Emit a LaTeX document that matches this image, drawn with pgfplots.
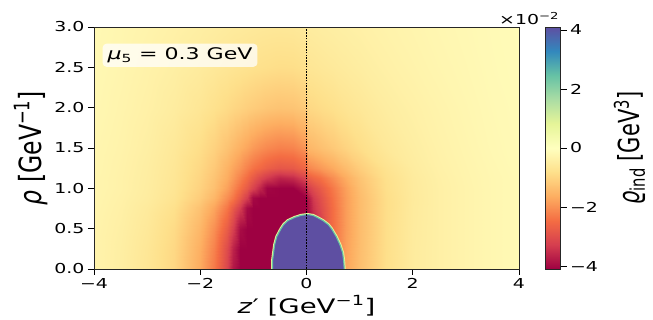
\documentclass[border=0pt]{standalone}
\usepackage{fontspec}
\setmainfont[FakeStretch=1.38]{DejaVu Sans}
\newfontfamily\rotfont{DejaVu Sans}
\usepackage{graphicx}
\usepackage{pgfplots}
\pgfplotsset{compat=1.18}
\definecolor{blu}{RGB}{94,79,162}
\definecolor{ringY}{RGB}{230,245,152}
\definecolor{ringT}{RGB}{102,194,165}
\begin{document}
\begin{tikzpicture}
\begin{axis}[
  at={(0,0)}, anchor=south west,
  width=425pt, height=242pt, scale only axis,
  xmin=-4, xmax=4, ymin=0, ymax=3,
  axis on top,
  colormap={spectral}{rgb255=(158,1,66) rgb255=(213,62,79) rgb255=(244,109,67) rgb255=(253,174,97) rgb255=(254,224,139) rgb255=(255,255,191) rgb255=(230,245,152) rgb255=(171,221,164) rgb255=(102,194,165) rgb255=(50,136,189) rgb255=(94,79,162)},
  point meta min=-4.1, point meta max=4.1,
  xtick={-4,-2,0,2,4}, xticklabels={−4,−2,0,2,4},
  ytick={0,0.5,1,1.5,2,2.5,3}, yticklabels={0.0,0.5,1.0,1.5,2.0,2.5,3.0},
  tick align=outside, xtick pos=left, ytick pos=left,
  major tick length=6pt,
  tick style={black, line width=0.8pt},
  axis line style={line width=0.9pt, black!85},
  tick label style={font=\fontsize{13.7}{15}\selectfont},
  xlabel={\textit{z}′ [GeV\textsuperscript{−1}]},
  xlabel style={font=\fontsize{20}{22}\selectfont},
  ylabel={\rotfont\scalebox{1}[1.3]{\textit{ρ} [GeV\textsuperscript{−1}]}},
  ylabel style={font=\fontsize{23.5}{25}\selectfont},
  colorbar,
  colorbar style={
    at={(parent axis.north east)}, anchor=north west, xshift=18pt, width=15pt,
    ytick={-4,-2,0,2,4}, yticklabels={−4,−2,0,2,4},
    ytick pos=right, yticklabel pos=right,
    major tick length=6pt, tick align=outside,
    tick style={black, line width=0.8pt},
    yticklabel style={font=\fontsize{13.7}{15}\selectfont},
    ylabel={\rotfont\scalebox{1}[1.38]{\textit{ϱ}\textsubscript{ind} [GeV\textsuperscript{3}]}},
    ylabel style={font=\fontsize{21}{23}\selectfont},
    ylabel shift=9pt,
    axis line style={line width=0.9pt, black!85},
    extra description/.code={\node[anchor=south east, inner sep=2pt, font=\fontsize{13.7}{15}\selectfont] at (1.05,1) {×10\textsuperscript{−2}};},
  },
]
\addplot[surf, shader=interp, mesh/rows=12, mesh/cols=28, point meta=explicit] table[x=z, y=r, meta=v] {
z r v
-4 0 -0.3
-3.5 0 -0.45
-3 0 -0.66
-2.5 0 -0.97
-2 0 -1.68
-1.75 0 -2.3
-1.5 0 -3.15
-1.375 0 -3.8
-1.25 0 -4.4
-1.125 0 -5.2
-1 0 -6
-0.875 0 -6
-0.75 0 -6
-0.5 0 -6
-0.25 0 -6
0 0 -5
0.03 0 -4.5
0.125 0 -3.8
0.25 0 -3.3
0.5 0 -2.4
0.75 0 -1.75
1 0 -1.35
1.5 0 -0.82
2 0 -0.52
2.5 0 -0.4
3 0 -0.3
3.5 0 -0.22
4 0 -0.16
-4 0.25 -0.3
-3.5 0.25 -0.44
-3 0.25 -0.64
-2.5 0.25 -0.95
-2 0.25 -1.62
-1.75 0.25 -2.2
-1.5 0.25 -3.05
-1.375 0.25 -3.65
-1.25 0.25 -4.3
-1.125 0.25 -5.0
-1 0.25 -6
-0.875 0.25 -6
-0.75 0.25 -6
-0.5 0.25 -6
-0.25 0.25 -6
0 0.25 -5
0.03 0.25 -4.5
0.125 0.25 -3.8
0.25 0.25 -3.3
0.5 0.25 -2.45
0.75 0.25 -1.8
1 0.25 -1.38
1.5 0.25 -0.83
2 0.25 -0.52
2.5 0.25 -0.4
3 0.25 -0.3
3.5 0.25 -0.22
4 0.25 -0.16
-4 0.5 -0.3
-3.5 0.5 -0.42
-3 0.5 -0.6
-2.5 0.5 -0.9
-2 0.5 -1.5
-1.75 0.5 -2.03
-1.5 0.5 -2.75
-1.375 0.5 -3.25
-1.25 0.5 -3.95
-1.125 0.5 -4.5
-1 0.5 -5.2
-0.875 0.5 -6
-0.75 0.5 -6
-0.5 0.5 -6
-0.25 0.5 -6
0 0.5 -5
0.03 0.5 -4.5
0.125 0.5 -3.9
0.25 0.5 -3.4
0.5 0.5 -2.45
0.75 0.5 -1.85
1 0.5 -1.4
1.5 0.5 -0.84
2 0.5 -0.53
2.5 0.5 -0.4
3 0.5 -0.3
3.5 0.5 -0.22
4 0.5 -0.16
-4 0.75 -0.28
-3.5 0.75 -0.39
-3 0.75 -0.55
-2.5 0.75 -0.8
-2 0.75 -1.32
-1.75 0.75 -1.75
-1.5 0.75 -2.35
-1.375 0.75 -2.8
-1.25 0.75 -3.3
-1.125 0.75 -3.97
-1 0.75 -4.5
-0.875 0.75 -5.2
-0.75 0.75 -6
-0.5 0.75 -6
-0.25 0.75 -6
0 0.75 -4.3
0.03 0.75 -3.9
0.125 0.75 -3.45
0.25 0.75 -3.1
0.5 0.75 -2.45
0.75 0.75 -1.85
1 0.75 -1.4
1.5 0.75 -0.85
2 0.75 -0.54
2.5 0.75 -0.4
3 0.75 -0.3
3.5 0.75 -0.22
4 0.75 -0.16
-4 0.875 -0.27
-3.5 0.875 -0.37
-3 0.875 -0.5
-2.5 0.875 -0.72
-2 0.875 -1.15
-1.75 0.875 -1.5
-1.5 0.875 -2.05
-1.375 0.875 -2.35
-1.25 0.875 -2.8
-1.125 0.875 -3.3
-1 0.875 -4.0
-0.875 0.875 -4.5
-0.75 0.875 -5.2
-0.5 0.875 -6
-0.25 0.875 -5.5
0 0.875 -4.2
0.03 0.875 -3.8
0.125 0.875 -3.35
0.25 0.875 -3.0
0.5 0.875 -2.4
0.75 0.875 -1.85
1 0.875 -1.4
1.5 0.875 -0.85
2 0.875 -0.55
2.5 0.875 -0.4
3 0.875 -0.3
3.5 0.875 -0.22
4 0.875 -0.16
-4 1 -0.26
-3.5 1 -0.35
-3 1 -0.48
-2.5 1 -0.68
-2 1 -1.05
-1.75 1 -1.35
-1.5 1 -1.8
-1.375 1 -2.1
-1.25 1 -2.45
-1.125 1 -2.8
-1 1 -3.2
-0.875 1 -3.6
-0.75 1 -4.05
-0.5 1 -4.6
-0.25 1 -4.4
0 1 -3.7
0.03 1 -3.3
0.125 1 -3.05
0.25 1 -2.8
0.5 1 -2.3
0.75 1 -1.8
1 1 -1.35
1.5 1 -0.82
2 1 -0.54
2.5 1 -0.4
3 1 -0.3
3.5 1 -0.22
4 1 -0.16
-4 1.125 -0.26
-3.5 1.125 -0.35
-3 1.125 -0.47
-2.5 1.125 -0.66
-2 1.125 -1.0
-1.75 1.125 -1.28
-1.5 1.125 -1.65
-1.375 1.125 -1.9
-1.25 1.125 -2.2
-1.125 1.125 -2.5
-1 1.125 -2.8
-0.875 1.125 -3.1
-0.75 1.125 -3.35
-0.5 1.125 -3.65
-0.25 1.125 -3.55
0 1.125 -3.15
0.03 1.125 -2.75
0.125 1.125 -2.6
0.25 1.125 -2.45
0.5 1.125 -2.05
0.75 1.125 -1.65
1 1.125 -1.28
1.5 1.125 -0.8
2 1.125 -0.53
2.5 1.125 -0.39
3 1.125 -0.29
3.5 1.125 -0.22
4 1.125 -0.16
-4 1.25 -0.25
-3.5 1.25 -0.34
-3 1.25 -0.46
-2.5 1.25 -0.64
-2 1.25 -0.95
-1.75 1.25 -1.2
-1.5 1.25 -1.55
-1.375 1.25 -1.75
-1.25 1.25 -1.95
-1.125 1.25 -2.2
-1 1.25 -2.4
-0.875 1.25 -2.55
-0.75 1.25 -2.7
-0.5 1.25 -2.85
-0.25 1.25 -2.8
0 1.25 -2.55
0.03 1.25 -2.15
0.125 1.25 -2.05
0.25 1.25 -1.92
0.5 1.25 -1.68
0.75 1.25 -1.4
1 1.25 -1.12
1.5 1.25 -0.74
2 1.25 -0.5
2.5 1.25 -0.37
3 1.25 -0.28
3.5 1.25 -0.21
4 1.25 -0.15
-4 1.5 -0.24
-3.5 1.5 -0.32
-3 1.5 -0.43
-2.5 1.5 -0.6
-2 1.5 -0.85
-1.75 1.5 -1.05
-1.5 1.5 -1.3
-1.375 1.5 -1.45
-1.25 1.5 -1.6
-1.125 1.5 -1.75
-1 1.5 -1.9
-0.875 1.5 -2.02
-0.75 1.5 -2.12
-0.5 1.5 -2.22
-0.25 1.5 -2.18
0 1.5 -1.95
0.03 1.5 -1.5
0.125 1.5 -1.45
0.25 1.5 -1.36
0.5 1.5 -1.2
0.75 1.5 -1.02
1 1.5 -0.85
1.5 1.5 -0.6
2 1.5 -0.45
2.5 1.5 -0.34
3 1.5 -0.26
3.5 1.5 -0.19
4 1.5 -0.14
-4 2 -0.21
-3.5 2 -0.29
-3 2 -0.38
-2.5 2 -0.5
-2 2 -0.66
-1.75 2 -0.78
-1.5 2 -0.9
-1.375 2 -0.97
-1.25 2 -1.03
-1.125 2 -1.1
-1 2 -1.15
-0.875 2 -1.2
-0.75 2 -1.25
-0.5 2 -1.3
-0.25 2 -1.28
0 2 -1.18
0.03 2 -0.95
0.125 2 -0.93
0.25 2 -0.88
0.5 2 -0.8
0.75 2 -0.7
1 2 -0.62
1.5 2 -0.48
2 2 -0.38
2.5 2 -0.3
3 2 -0.23
3.5 2 -0.17
4 2 -0.13
-4 2.5 -0.19
-3.5 2.5 -0.26
-3 2.5 -0.34
-2.5 2.5 -0.43
-2 2.5 -0.53
-1.75 2.5 -0.6
-1.5 2.5 -0.66
-1.375 2.5 -0.69
-1.25 2.5 -0.72
-1.125 2.5 -0.75
-1 2.5 -0.78
-0.875 2.5 -0.8
-0.75 2.5 -0.82
-0.5 2.5 -0.85
-0.25 2.5 -0.84
0 2.5 -0.78
0.03 2.5 -0.66
0.125 2.5 -0.65
0.25 2.5 -0.62
0.5 2.5 -0.57
0.75 2.5 -0.52
1 2.5 -0.47
1.5 2.5 -0.38
2 2.5 -0.31
2.5 2.5 -0.25
3 2.5 -0.2
3.5 2.5 -0.15
4 2.5 -0.12
-4 3 -0.18
-3.5 3 -0.24
-3 3 -0.3
-2.5 3 -0.37
-2 3 -0.44
-1.75 3 -0.48
-1.5 3 -0.52
-1.375 3 -0.54
-1.25 3 -0.55
-1.125 3 -0.57
-1 3 -0.58
-0.875 3 -0.6
-0.75 3 -0.61
-0.5 3 -0.62
-0.25 3 -0.61
0 3 -0.57
0.03 3 -0.5
0.125 3 -0.49
0.25 3 -0.47
0.5 3 -0.44
0.75 3 -0.41
1 3 -0.38
1.5 3 -0.32
2 3 -0.27
2.5 3 -0.22
3 3 -0.18
3.5 3 -0.14
4 3 -0.11
};
\addplot[draw=ringY, line width=3pt] coordinates {(-0.64,0) (-0.64,0.1) (-0.62,0.2) (-0.60,0.3) (-0.56,0.4) (-0.48,0.5) (-0.43,0.55) (-0.35,0.6) (-0.22,0.64) (-0.1,0.665) (0.02,0.675) (0.12,0.665) (0.2,0.64) (0.31,0.6) (0.41,0.55) (0.47,0.5) (0.56,0.4) (0.63,0.3) (0.68,0.2) (0.70,0.1) (0.71,0)};
\addplot[fill=blu, draw=none] coordinates {(-0.64,0) (-0.64,0.1) (-0.62,0.2) (-0.60,0.3) (-0.56,0.4) (-0.48,0.5) (-0.43,0.55) (-0.35,0.6) (-0.22,0.64) (-0.1,0.665) (0.02,0.675) (0.12,0.665) (0.2,0.64) (0.31,0.6) (0.41,0.55) (0.47,0.5) (0.56,0.4) (0.63,0.3) (0.68,0.2) (0.70,0.1) (0.71,0)} \closedcycle;
\addplot[draw=ringT, line width=1.1pt] coordinates {(-0.64,0) (-0.64,0.1) (-0.62,0.2) (-0.60,0.3) (-0.56,0.4) (-0.48,0.5) (-0.43,0.55) (-0.35,0.6) (-0.22,0.64) (-0.1,0.665) (0.02,0.675) (0.12,0.665) (0.2,0.64) (0.31,0.6) (0.41,0.55) (0.47,0.5) (0.56,0.4) (0.63,0.3) (0.68,0.2) (0.70,0.1) (0.71,0)};
\addplot[black, line width=0.6pt, dash pattern=on 1.6pt off 1.2pt] coordinates {(0,0) (0,3)};
\node[fill=white, fill opacity=0.75, text opacity=1, rounded corners=4pt, inner xsep=5pt, inner ysep=4pt, font=\fontsize{16}{18}\selectfont] at (axis cs:-2.38,2.65) {\textit{μ}\textsubscript{5} = 0.3 GeV};
\end{axis}
\pgfresetboundingbox
\path[use as bounding box] (-94pt,-51pt) rectangle (559pt,269pt);
\end{tikzpicture}
\end{document}
